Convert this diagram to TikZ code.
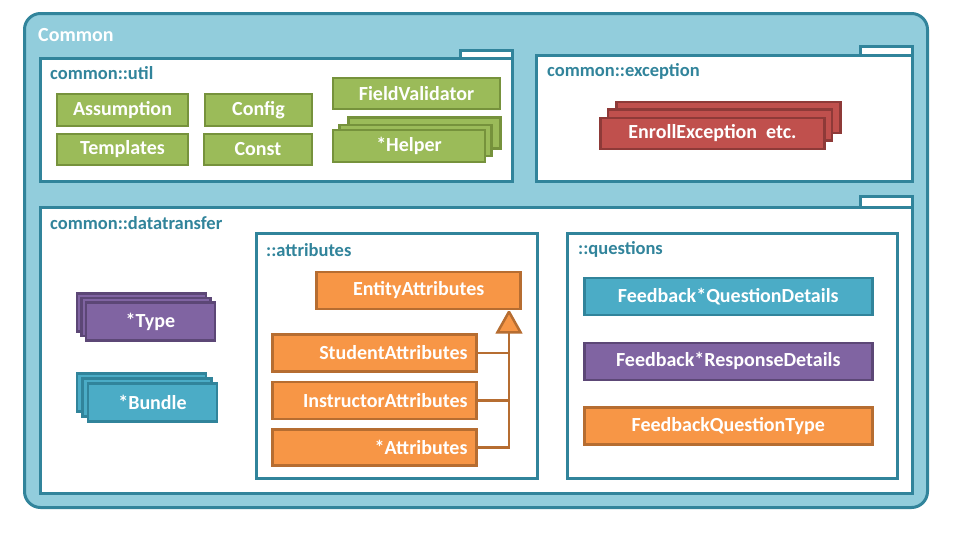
\documentclass[tikz,border=0pt]{standalone}
\usepackage{fontspec}
\setmainfont{Carlito}
\usetikzlibrary{arrows.meta}
\definecolor{teal}{HTML}{31849B}
\definecolor{lblue}{HTML}{92CDDC}
\definecolor{gfill}{HTML}{9BBB59}
\definecolor{gline}{HTML}{76923C}
\definecolor{rfill}{HTML}{C0504D}
\definecolor{rline}{HTML}{8E3A38}
\definecolor{pfill}{HTML}{8064A2}
\definecolor{pline}{HTML}{5C4776}
\definecolor{bfill}{HTML}{4BACC6}
\definecolor{bline}{HTML}{31849B}
\definecolor{ofill}{HTML}{F79646}
\definecolor{oline}{HTML}{B66D31}
\tikzset{
  pkg/.style={draw=teal, fill=white, line width=3pt, inner sep=0pt},
  pkgtab/.style={draw=teal, fill=white, line width=3pt, inner sep=0pt},
  pkglabel/.style={anchor=west, inner sep=0pt, text=teal, font=\fontsize{18.5}{20}\selectfont\bfseries},
  cbox/.style={line width=2.5pt, inner sep=0pt, text=white, font=\fontsize{20}{22}\selectfont\bfseries},
  gbox/.style={cbox, draw=gline, fill=gfill},
  rbox/.style={cbox, draw=rline, fill=rfill},
  pbox/.style={cbox, draw=pline, fill=pfill},
  bbox/.style={cbox, draw=bline, fill=bfill},
  obox/.style={cbox, draw=oline, fill=ofill},
  inhline/.style={draw=oline, line width=2.5pt},
}
\begin{document}
\begin{tikzpicture}[x=1pt,y=-1pt]
\useasboundingbox (0,0) rectangle (960,538);
% outer package
\node[draw=teal, fill=lblue, line width=3pt, rounded corners=16pt, minimum width=903pt, minimum height=494pt, inner sep=0pt] (common) at (476,260.5) {};
\node[anchor=west, inner sep=0pt, text=white, font=\fontsize{20}{22}\selectfont\bfseries] (commonlbl) at (38,35) {Common};

% util package
\node[pkgtab, minimum width=52pt, minimum height=10pt] (utiltab) at (486.3,55) {};
\node[pkg, minimum width=472pt, minimum height=123pt] (util) at (276.3,119.8) {};
\node[pkglabel] (utillbl) at (50,73) {common::util};
\node[gbox, minimum width=131pt, minimum height=32pt] (assump) at (122.5,110) {Assumption};
\node[gbox, minimum width=131pt, minimum height=31pt] (templ) at (122.5,149.5) {Templates};
\node[gbox, minimum width=107pt, minimum height=32pt] (config) at (258.5,110) {Config};
\node[gbox, minimum width=108pt, minimum height=31pt] (const) at (258,149.5) {Const};
\node[gbox, minimum width=167pt, minimum height=31pt] (fieldval) at (416.5,93.5) {FieldValidator};
\node[gbox, minimum width=152pt, minimum height=31pt] (helper3) at (424.5,133) {};
\node[gbox, minimum width=152pt, minimum height=31pt] (helper2) at (415.5,140.5) {};
\node[gbox, minimum width=152pt, minimum height=32pt] (helper) at (409,146) {*Helper};

% exception package
\node[pkgtab, minimum width=52pt, minimum height=10pt] (exctab) at (886.3,51) {};
\node[pkg, minimum width=376pt, minimum height=126pt] (exc) at (724.3,118.3) {};
\node[pkglabel] (exclbl) at (547,71.7) {common::exception};
\node[rbox, minimum width=224pt, minimum height=31pt] (exc3) at (728.7,117.3) {};
\node[rbox, minimum width=224pt, minimum height=31pt] (exc2) at (720,125) {};
\node[rbox, minimum width=224pt, minimum height=31pt] (enroll) at (712.5,133.3) {EnrollException\ \ etc.};

% datatransfer package
\node[pkgtab, minimum width=52pt, minimum height=12pt] (dttab) at (886.3,202) {};
\node[pkg, minimum width=872pt, minimum height=286pt] (dt) at (476.3,350.7) {};
\node[pkglabel] (dtlbl) at (50,223) {common::datatransfer};

\node[pbox, minimum width=129pt, minimum height=38pt] (type3) at (141.3,312.7) {};
\node[pbox, minimum width=129pt, minimum height=38pt] (type2) at (145.8,317.2) {};
\node[pbox, minimum width=129pt, minimum height=38pt] (type) at (150.3,321.7) {*Type};

\node[bbox, minimum width=129pt, minimum height=38pt] (bundle3) at (141.5,392.5) {};
\node[bbox, minimum width=129pt, minimum height=38pt] (bundle2) at (147,397.5) {};
\node[bbox, minimum width=129pt, minimum height=38pt] (bundle) at (152.5,402.5) {*Bundle};

% attributes package
\node[pkg, minimum width=281pt, minimum height=245pt] (attrpkg) at (396.7,355.5) {};
\node[pkglabel] (attrlbl) at (266,250) {::attributes};
\node[obox, minimum width=204pt, minimum height=37pt] (entity) at (418.7,290.5) {EntityAttributes};
\node[obox, minimum height=37pt, text width=186pt, inner xsep=9pt, align=right] (sattr) at (374.5,352.8) {StudentAttributes};
\node[obox, minimum height=37pt, text width=186pt, inner xsep=9pt, align=right] (iattr) at (374.5,400.5) {InstructorAttributes};
\node[obox, minimum height=36pt, text width=186pt, inner xsep=9pt, align=right] (xattr) at (374.5,447.5) {*Attributes};
\coordinate (trunk) at (509,0);
\coordinate (apex) at (entity.south -| trunk);
\coordinate (tribase) at ([yshift=-22pt]apex);
\draw[inhline] (xattr.east) -| (tribase);
\draw[inhline] (sattr.east) -- (sattr.east -| trunk);
\draw[inhline] (iattr.east) -- (iattr.east -| trunk);
\draw[inhline, fill=ofill, line join=miter, miter limit=2] ([yshift=-1.5pt]apex) -- ([xshift=11.5pt]tribase) -- ([xshift=-11.5pt]tribase) -- cycle;

% questions package
\node[pkg, minimum width=330pt, minimum height=245pt] (qpkg) at (732.3,355.5) {};
\node[pkglabel] (qlbl) at (578,249.3) {::questions};
\node[bbox, minimum width=288pt, minimum height=37pt] (fqd) at (728.3,296.3) {Feedback*QuestionDetails};
\node[pbox, minimum width=288pt, minimum height=37pt] (frd) at (728.3,361.3) {Feedback*ResponseDetails};
\node[obox, minimum width=288pt, minimum height=37pt] (fqt) at (728.3,426.2) {FeedbackQuestionType};
\end{tikzpicture}
\end{document}
